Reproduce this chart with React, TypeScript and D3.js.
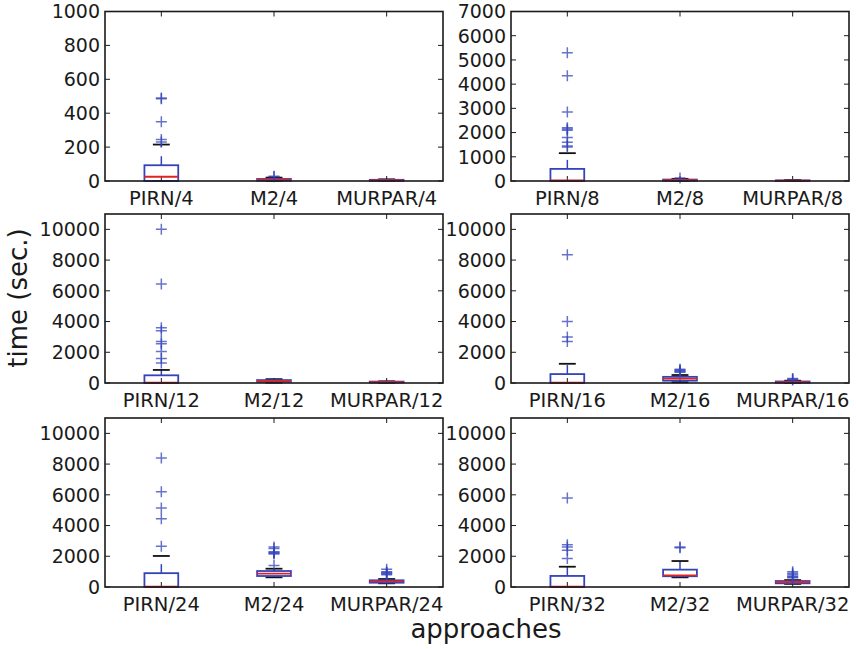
import React, { useRef, useEffect } from "react";
import * as d3 from "d3";

// approaches compared, one panel per process count
const approaches = ["PIRN", "M2", "MURPAR"];
const groups = [4, 8, 12, 16, 24, 32];
const yMaxes = [1000, 7000, 11000, 11000, 11000, 11000];
const yTickSteps = [200, 1000, 2000, 2000, 2000, 2000];

// box statistics per panel: [PIRN, M2, MURPAR]
const q1Values = [
  [0, 2, 1],
  [0, 10, 5],
  [0, 80, 30],
  [0, 150, 20],
  [0, 715, 280],
  [0, 700, 240],
];
const medianValues = [
  [25, 8, 4],
  [25, 35, 15],
  [20, 140, 60],
  [20, 280, 60],
  [20, 866, 360],
  [20, 760, 325],
];
const q3Values = [
  [93, 12, 7],
  [500, 60, 25],
  [500, 190, 90],
  [580, 400, 100],
  [900, 1040, 436],
  [720, 1130, 390],
];
const whiskerLow = [
  [0, 0, 0],
  [0, 0, 0],
  [0, 20, 10],
  [0, 50, 0],
  [0, 630, 240],
  [0, 630, 200],
];
const whiskerHigh = [
  [215, 20, 10],
  [1150, 90, 40],
  [850, 250, 110],
  [1250, 520, 150],
  [2020, 1190, 520],
  [1320, 1690, 450],
];
const flierValues = [
  [[490, 485, 350, 245, 230], [28, 25], []],
  [[5300, 4350, 2850, 2200, 2150, 2100, 1800, 1600, 1450, 1400], [120], []],
  [[10000, 6450, 3600, 3400, 2700, 2550, 2050, 1600, 1300], [], []],
  [[8350, 4000, 3000, 2700], [900, 850, 800, 750, 700], [300, 250, 200]],
  [[8400, 6200, 5150, 4450, 2650], [2600, 2500, 2300, 2250, 2200, 2150, 1400], [1150, 1000, 950, 900, 850, 800]],
  [[5800, 2750, 2600, 2400, 1850], [2600, 2550], [1000, 900, 800, 700, 650, 600]],
];

const width = 856;
const height = 649;
const colEdges = [
  [105, 443],
  [511, 849],
];
const rowEdges = [
  [11.5, 181],
  [214, 383],
  [418, 587],
];

const FONT = "DejaVu Sans, sans-serif";
const BLUE = "#3344bb";
const RED = "#e02424";
const INK = "#1a1a1a";

const App = () => {
  const container = useRef(null);

  useEffect(() => {
    const svg = d3.select(container.current);
    svg.selectAll("*").remove();

    groups.forEach((g, pi) => {
      const [x0, x1] = colEdges[pi % 2];
      const [y0, y1] = rowEdges[Math.floor(pi / 2)];

      const x = d3.scaleLinear().domain([0.5, 3.5]).range([x0, x1]);
      const y = d3.scaleLinear().domain([0, yMaxes[pi]]).range([y1, y0]);
      const halfBox = x(1.15) - x(1);
      const halfCap = halfBox / 2;

      const panel = svg.append("g");
      const yTicks = d3.range(0, yMaxes[pi] + 1, yTickSteps[pi]);
      const xTicks = [1, 2, 3];

      // ticks, inside on all sides
      yTicks.forEach((t) => {
        panel.append("line").attr("x1", x0).attr("x2", x0 + 5).attr("y1", y(t)).attr("y2", y(t)).attr("stroke", INK).attr("stroke-width", 1);
        panel.append("line").attr("x1", x1).attr("x2", x1 - 5).attr("y1", y(t)).attr("y2", y(t)).attr("stroke", INK).attr("stroke-width", 1);
        panel
          .append("text")
          .attr("x", x0 - 5)
          .attr("y", y(t))
          .attr("dy", "0.36em")
          .attr("text-anchor", "end")
          .style("font-family", FONT)
          .style("font-size", "19px")
          .style("fill", INK)
          .text(t);
      });
      xTicks.forEach((t, i) => {
        panel.append("line").attr("x1", x(t)).attr("x2", x(t)).attr("y1", y1).attr("y2", y1 - 5).attr("stroke", INK).attr("stroke-width", 1);
        panel.append("line").attr("x1", x(t)).attr("x2", x(t)).attr("y1", y0).attr("y2", y0 + 5).attr("stroke", INK).attr("stroke-width", 1);
        panel
          .append("text")
          .attr("x", x(t))
          .attr("y", y1 + 23.5)
          .attr("text-anchor", "middle")
          .style("font-family", FONT)
          .style("font-size", "19.5px")
          .style("fill", INK)
          .text(`${approaches[i]}/${g}`);
      });

      // boxes
      approaches.forEach((a, i) => {
        const cx = x(i + 1);
        // whiskers (dashed)
        panel.append("line").attr("x1", cx).attr("x2", cx).attr("y1", y(q3Values[pi][i])).attr("y2", y(whiskerHigh[pi][i]))
          .attr("stroke", BLUE).attr("stroke-width", 1.5).attr("stroke-dasharray", "9,9");
        panel.append("line").attr("x1", cx).attr("x2", cx).attr("y1", y(q1Values[pi][i])).attr("y2", y(whiskerLow[pi][i]))
          .attr("stroke", BLUE).attr("stroke-width", 1.5).attr("stroke-dasharray", "9,9");
        // caps
        [whiskerHigh[pi][i], whiskerLow[pi][i]].forEach((v) => {
          panel.append("line").attr("x1", cx - halfCap).attr("x2", cx + halfCap).attr("y1", y(v)).attr("y2", y(v))
            .attr("stroke", "#111").attr("stroke-width", 1.8);
        });
        // box
        panel
          .append("rect")
          .attr("x", cx - halfBox)
          .attr("width", halfBox * 2)
          .attr("y", y(q3Values[pi][i]))
          .attr("height", Math.max(0.5, y(q1Values[pi][i]) - y(q3Values[pi][i])))
          .attr("fill", "none")
          .attr("stroke", BLUE)
          .attr("stroke-width", 1.8);
        // median
        panel.append("line").attr("x1", cx - halfBox).attr("x2", cx + halfBox).attr("y1", y(medianValues[pi][i])).attr("y2", y(medianValues[pi][i]))
          .attr("stroke", RED).attr("stroke-width", 1.8);
        // fliers
        flierValues[pi][i].forEach((v) => {
          const fy = y(v);
          panel
            .append("path")
            .attr("d", `M${cx - 5.5},${fy}H${cx + 5.5}M${cx},${fy - 5.5}V${fy + 5.5}`)
            .attr("stroke", BLUE)
            .attr("stroke-opacity", 0.75)
            .attr("stroke-width", 1.5)
            .attr("fill", "none");
        });
      });

      // frame
      panel
        .append("rect")
        .attr("x", x0)
        .attr("y", y0)
        .attr("width", x1 - x0)
        .attr("height", y1 - y0)
        .attr("fill", "none")
        .attr("stroke", INK)
        .attr("stroke-width", 1.6);
    });

    // axis titles
    svg
      .append("text")
      .attr("transform", `translate(27, 298) rotate(-90)`)
      .attr("text-anchor", "middle")
      .style("font-family", FONT)
      .style("font-size", "26px")
      .style("fill", INK)
      .text("time (sec.)");

    svg
      .append("text")
      .attr("x", 486)
      .attr("y", 638)
      .attr("text-anchor", "middle")
      .style("font-family", FONT)
      .style("font-size", "26px")
      .style("fill", INK)
      .text("approaches");
  }, []);

  return (
    <svg
      ref={container}
      width={width}
      height={height}
      style={{ position: "absolute", left: 0, top: 0, background: "#fff" }}
    />
  );
};

export default App;
